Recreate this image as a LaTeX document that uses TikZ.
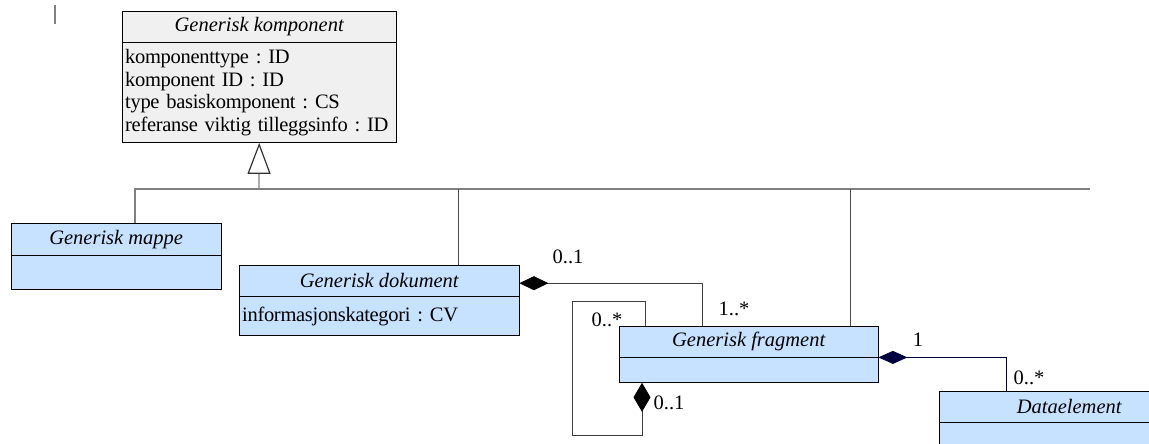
\documentclass[tikz,border=0pt]{standalone}
\usepackage{fontspec}
\setmainfont{Liberation Serif}
\newfontfamily\attrfamily{Liberation Serif}[LetterSpace=-1.5,WordSpace=0.6]
\usetikzlibrary{positioning,arrows.meta}

\definecolor{classblue}{RGB}{198,226,255}
\definecolor{classgray}{RGB}{240,240,240}
\definecolor{linegray}{RGB}{128,128,128}
\definecolor{aggnavy}{RGB}{0,0,64}

\newcommand\umlfont{\fontsize{20.5}{22.7}\selectfont}
\newcommand\attrfont{\attrfamily\umlfont}

\frenchspacing
\begin{document}
\begin{tikzpicture}
[x=1pt,y=-1pt,%
  every node/.style={inner sep=0pt,font=\umlfont},%
  classhead/.style={draw,fill=classblue,minimum height=31pt,anchor=north west,%
    font=\umlfont\itshape},%
  classbody/.style={draw,fill=classblue,align=left,inner xsep=3pt,inner ysep=2pt,anchor=north,%
    font=\attrfont},%
  genline/.style={draw=linegray,line width=1.2pt},%
  aggline/.style={draw=black!75,line width=0.8pt}]
\clip (0,0) rectangle (1149,444);

% small tick top left
\draw[linegray,line width=1.2pt] (55,5) -- (55,24);

% classes
\node[classhead,fill=classgray,minimum width=274pt] (komp) at (122,11) {Generisk komponent};
\node[classbody,fill=classgray,text width=268pt,minimum height=100pt] (kompattr) at (komp.south)
  {komponenttype : ID\\komponent ID : ID\\type basiskomponent : CS\\referanse viktig tilleggsinfo : ID};

\node[classhead,minimum width=210pt,minimum height=32pt] (mappe) at (11,223) {Generisk mappe};
\node[classbody,minimum width=210pt,minimum height=34pt] (mappeattr) at (mappe.south) {};

\node[classhead,minimum width=280pt] (dok) at (239,265) {Generisk dokument};
\node[classbody,text width=274pt,minimum height=39pt] (dokattr) at (dok.south)
  {informasjonskategori : CV};

\node[classhead,minimum width=259pt] (frag) at (619,326) {Generisk fragment};
\node[classbody,minimum width=259pt,minimum height=25pt] (fragattr) at (frag.south) {};

\node[classhead,minimum width=260pt] (data) at (939,391) {Dataelement};
\node[classbody,minimum width=260pt,minimum height=40pt] (dataattr) at (data.south) {};

% generalisation
\coordinate (bus) at (259,189);
\coordinate (busend) at (1090,189);
\coordinate (mappetop) at ([xshift=124pt]mappe.north west);
\coordinate (doktop) at ([xshift=219pt]dok.north west);
\coordinate (fragtop) at ([xshift=231pt]frag.north west);
\draw[genline,-{Triangle[open,length=31pt,width=23pt,fill=white,color=black!80]}] (bus) -- (kompattr.south);
\draw[genline] (mappetop) |- (busend);
\draw[genline,line width=0.8pt,draw=black!70] (doktop) -- (doktop |- bus);
\draw[genline,line width=0.8pt,draw=black!70] (fragtop) -- (fragtop |- bus);

% aggregations
\coordinate (dokagg) at ([yshift=-2.5pt]dok.east);
\coordinate (fragdok) at ([xshift=83pt]frag.north west);
\coordinate (fragown) at ([xshift=23pt]fragattr.south west);
\coordinate (fragpart) at ([xshift=26pt]frag.north west);
\coordinate (datatop) at ([xshift=67pt]data.north west);
\draw[aggline,{Diamond[length=29pt,width=14pt,color=black]}-] (dokagg) -| (fragdok);
\draw[aggline,{Diamond[length=29pt,width=17pt,color=black]}-] (fragown) -- ++(0,53) -- ++(-70,0)
  -- ++(0,-134) -- ++(73,0) -- (fragpart);
\draw[aggline,draw=aggnavy,{Diamond[length=29pt,width=13pt,color=aggnavy]}-] (fragattr.north east) -| (datatop);

% multiplicities
\node (dokmult) at (568,257) {0..1};
\node (fragdokmult) at (734,309) {1..*};
\node (fragpartmult) at (607,320) {0..*};
\node (fragownmult) at (669,403) {0..1};
\node (fragdatamult) at (918,340) {1};
\node (datamult) at (1029,378) {0..*};
\end{tikzpicture}
\end{document}
